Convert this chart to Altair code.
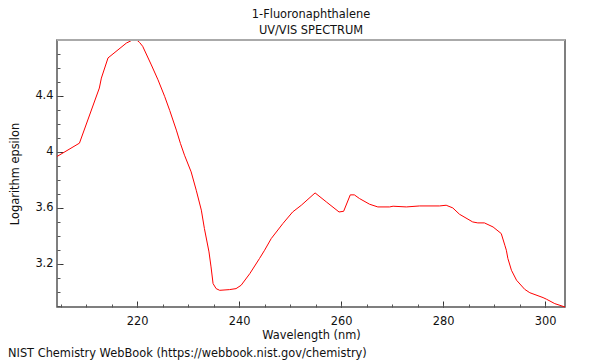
import altair as alt
import pandas as pd

# Spectrum
wavelength = [204.3, 208.7, 212.6, 213.0, 214.3, 217.9, 219.0, 220.0, 220.5, 221.1,
              222.8, 224.1, 225.4, 226.4, 227.7, 228.5, 229.3, 230.6, 231.6, 232.6,
              233.2, 234.1, 234.5, 234.9, 235.5, 236.2, 238.1, 239.4, 240.4, 242.1,
              244.0, 245.0, 246.3, 248.6, 250.5, 252.2, 254.9, 257.1, 259.6, 260.5,
              261.8, 262.6, 263.6, 265.6, 267.2, 269.5, 270.2, 272.8, 275.4, 279.3,
              280.6, 281.9, 283.2, 285.8, 286.8, 288.1, 289.8, 291.4, 292.1, 292.4,
              292.7, 293.4, 294.4, 296.0, 297.0, 299.6, 300.3, 301.9, 303.9]
log_epsilon = [3.967, 4.062, 4.455, 4.526, 4.670, 4.776, 4.796, 4.796, 4.780, 4.753,
               4.620, 4.514, 4.396, 4.295, 4.155, 4.060, 3.976, 3.857, 3.726, 3.584,
               3.453, 3.286, 3.179, 3.060, 3.024, 3.012, 3.017, 3.024, 3.048, 3.131,
               3.239, 3.298, 3.381, 3.489, 3.571, 3.619, 3.707, 3.643, 3.571, 3.576,
               3.693, 3.693, 3.667, 3.626, 3.607, 3.607, 3.612, 3.607, 3.614, 3.614,
               3.619, 3.600, 3.555, 3.500, 3.493, 3.493, 3.464, 3.417, 3.334, 3.298,
               3.239, 3.155, 3.084, 3.019, 2.995, 2.960, 2.948, 2.917, 2.893]

x_domain = [204.3, 303.9]
y_domain = [2.893, 4.798]
x_major = [220, 240, 260, 280, 300]
x_minor = [205, 210, 215, 220, 225, 230, 235, 240, 245, 250, 255, 260, 265, 270,
           275, 280, 285, 290, 295, 300]
y_major = [3.2, 3.6, 4.0, 4.4]
y_minor = [2.9, 3.0, 3.1, 3.2, 3.3, 3.4, 3.5, 3.6, 3.7, 3.8, 3.9, 4.0, 4.1, 4.2,
           4.3, 4.4, 4.5, 4.6, 4.7]

title_lines = ["1-Fluoronaphthalene", "UV/VIS SPECTRUM"]
x_title = "Wavelength (nm)"
y_title = "Logarithm epsilon"
footer = ["NIST Chemistry WebBook (https://webbook.nist.gov/chemistry)"]

df = pd.DataFrame({"wl": wavelength, "le": log_epsilon})
foot_df = pd.DataFrame({"t": footer})
edge_df = pd.DataFrame({"edge": ["top"]})

FONT = "DejaVu Sans"
FS = 11.4
xs = alt.Scale(domain=x_domain, nice=False, zero=False)
ys = alt.Scale(domain=y_domain, nice=False, zero=False)

line = alt.Chart(df).mark_line(color="#ff0000", strokeWidth=1).encode(
    x=alt.X("wl:Q", scale=xs, axis=alt.Axis(
        orient="bottom", values=x_major, tickSize=6, offset=-6, domain=False,
        grid=False, labelPadding=8, title=x_title, titleY=37,
        titleBaseline="alphabetic", titleFontWeight="normal", titleFontSize=FS,
        labelFontSize=FS, tickColor="#333", labelColor="#111", titleColor="#111")),
    y=alt.Y("le:Q", scale=ys, axis=alt.Axis(
        orient="left", values=y_major, format="~g", tickSize=6, offset=-6,
        domain=False, grid=False, labelPadding=4, title=y_title, titleX=-45,
        titleBaseline="alphabetic", titleFontWeight="normal", titleFontSize=FS,
        labelFontSize=FS, tickColor="#333", labelColor="#111", titleColor="#111")),
)

minor = alt.Chart(df).mark_line(opacity=0).encode(
    x=alt.X("wl:Q", scale=xs, axis=alt.Axis(
        orient="bottom", values=x_minor, tickSize=3, offset=-3, domain=False,
        grid=False, labels=False, title=None, tickColor="#555")),
    y=alt.Y("le:Q", scale=ys, axis=alt.Axis(
        orient="left", values=y_minor, tickSize=3, offset=-3, domain=False,
        grid=False, labels=False, title=None, tickColor="#555")),
)

top_edge = alt.Chart(edge_df).mark_rule(color="#aaaaaa", strokeWidth=2).encode(
    x=alt.value(0), x2=alt.value(508), y=alt.value(0)
)

foot = alt.Chart(foot_df).mark_text(
    align="left", baseline="alphabetic", fontSize=FS, font=FONT, color="#111"
).encode(text="t:N", x=alt.value(-49), y=alt.value(317))

chart = alt.layer(line, minor, top_edge, foot).resolve_axis(
    x="independent", y="independent"
).properties(
    width=508, height=267,
    padding={"left": 49, "top": 32, "right": 27, "bottom": 53},
    autosize=alt.AutoSizeParams(type="none"),
    title=alt.TitleParams(title_lines, fontSize=FS, fontWeight="normal", font=FONT,
                          anchor="middle", offset=2, lineHeight=16, color="#111"),
).configure(font=FONT).configure_view(stroke="#555555", strokeWidth=1.5)

chart.save("out.html", embed_options={"renderer": "svg", "actions": False})
